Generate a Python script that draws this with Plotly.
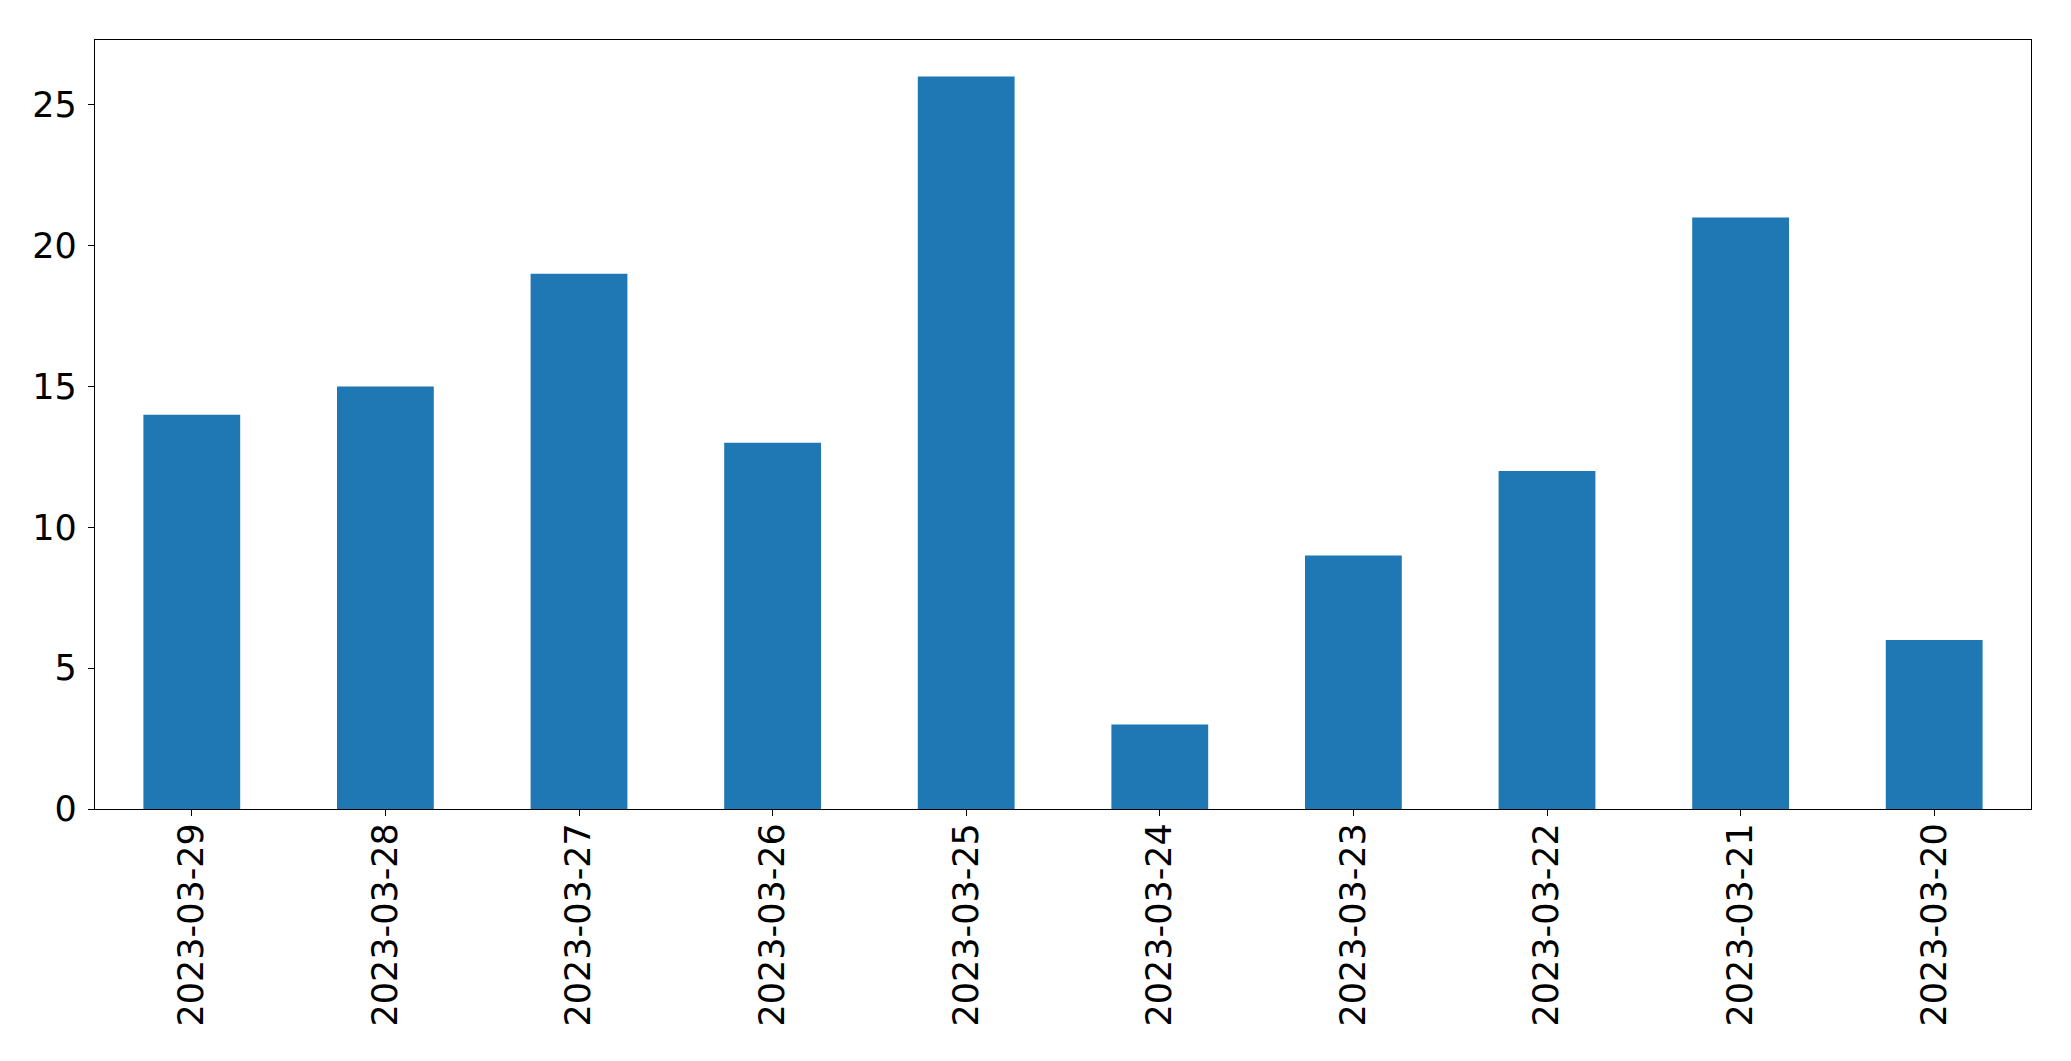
import plotly.graph_objects as go

dates = ["2023-03-29", "2023-03-28", "2023-03-27", "2023-03-26", "2023-03-25",
         "2023-03-24", "2023-03-23", "2023-03-22", "2023-03-21", "2023-03-20"]
counts = [14, 15, 19, 13, 26, 3, 9, 12, 21, 6]
y_ticks = [0, 5, 10, 15, 20, 25]

fig = go.Figure(go.Bar(x=dates, y=counts, marker=dict(color="#1f77b4", line=dict(width=0)), width=0.5))

axis_common = dict(showline=True, linecolor="black", linewidth=1.3, mirror=True,
                   ticks="outside", ticklen=6, tickwidth=1.3, tickcolor="black",
                   showgrid=False, zeroline=False,
                   tickfont=dict(family="DejaVu Sans", size=35, color="black"))

fig.update_layout(
    width=2071, height=1061,
    margin=dict(l=86.5, r=47.5, t=31.5, b=260, autoexpand=False),
    plot_bgcolor="white", paper_bgcolor="white",
    showlegend=False,
    xaxis=dict(type="category", tickangle=-90, range=[-0.5, 9.5], ticklabelstandoff=-7, **axis_common),
    yaxis=dict(range=[0, 27.3], tickvals=y_ticks, ticklabelstandoff=4, **axis_common),
)

fig.write_html("out.html")
